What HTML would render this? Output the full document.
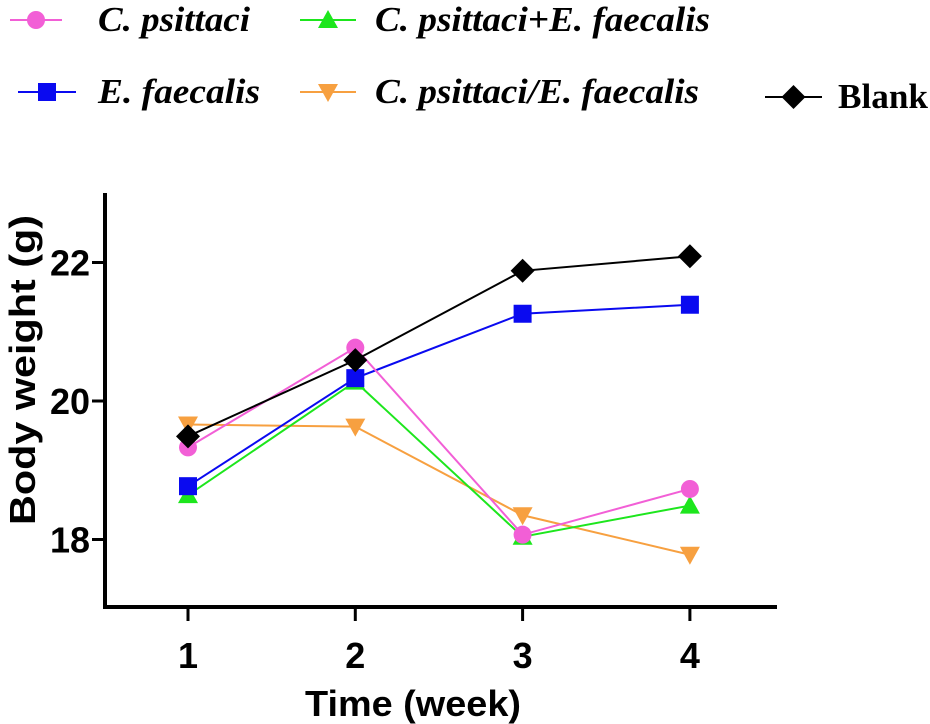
<!DOCTYPE html>
<html><head><meta charset="utf-8"><style>
body{margin:0;background:#fff;width:930px;height:724px;overflow:hidden}
svg{display:block}
.lg{font-family:"Liberation Serif",serif;font-weight:bold;font-style:italic;font-size:35px}
.tk{font-family:"Liberation Sans",sans-serif;font-weight:bold;font-size:36px}
</style></head><body>
<svg id="chart" width="930" height="724" viewBox="0 0 930 724">
<g id="legend"></g>
<g id="axes"></g>
<g id="series"></g>
<text class="tk" transform="translate(35,370) rotate(-90)" text-anchor="middle" font-size="35" textLength="310" lengthAdjust="spacingAndGlyphs">Body weight (g)</text>
<text class="tk" x="413" y="716" text-anchor="middle" font-size="34" textLength="216" lengthAdjust="spacingAndGlyphs">Time  (week)</text>
</svg>
<script>
const weeks=[1,2,3,4];
const yTicks=[18,20,22];
const cPsittaci=[19.33,20.77,18.07,18.73];
const combined=[18.64,20.28,18.04,18.49];
const eFaecalis=[18.77,20.33,21.26,21.39];
const sequential=[19.66,19.63,18.35,17.78];
const blank=[19.49,20.59,21.88,22.09];
const seriesNames=["C. psittaci","C. psittaci+E. faecalis","E. faecalis","C. psittaci/E. faecalis","Blank"];
const NS="http://www.w3.org/2000/svg";
function X(v){return 188+(v-1)*167.3;}
function Y(v){return 401-(v-20)*69.25;}
function mk(tag,attrs,parent){const e=document.createElementNS(NS,tag);for(const k in attrs)e.setAttribute(k,attrs[k]);parent.appendChild(e);return e;}
const axes=document.getElementById('axes');
let l=mk('line',{x1:105,y1:193,x2:105,y2:609,stroke:'#000','stroke-width':4},axes);


l=mk('line',{x1:103,y1:607,x2:777,y2:607,stroke:'#000','stroke-width':4},axes);


yTicks.forEach(t=>{
 const tl=mk('line',{x1:92,y1:Y(t),x2:105,y2:Y(t),stroke:'#000','stroke-width':3},axes);
 
 
 const tx=mk('text',{x:90,y:Y(t)+13,'text-anchor':'end','class':'tk'},axes);
 tx.textContent=t;
 
 
});
weeks.forEach(w=>{
 const tl=mk('line',{x1:X(w),y1:607,x2:X(w),y2:621,stroke:'#000','stroke-width':3},axes);
 
 
 const tx=mk('text',{x:X(w),y:668,'text-anchor':'middle','class':'tk'},axes);
 tx.textContent=w;
 
 
});
function marker(type,x,y,color,g){
 if(type==='circle')return mk('circle',{cx:x,cy:y,r:9,fill:color},g);
 if(type==='square')return mk('rect',{x:x-9,y:y-9,width:18,height:18,fill:color},g);
 if(type==='tri')return mk('polygon',{points:`${x},${y-10} ${x-10},${y+8} ${x+10},${y+8}`,fill:color},g);
 if(type==='tridown')return mk('polygon',{points:`${x},${y+10} ${x-10},${y-8} ${x+10},${y-8}`,fill:color},g);
 return mk('polygon',{points:`${x},${y-12} ${x+12},${y} ${x},${y+12} ${x-12},${y}`,fill:color},g);
}
const defs=[
 {vals:sequential,color:'#f7a040',type:'tridown',name:'series-c-psittaci-then-e-faecalis'},
 {vals:combined,color:'#1de61d',type:'tri',name:'series-c-psittaci-plus-e-faecalis'},
 {vals:eFaecalis,color:'#0a0af0',type:'square',name:'series-e-faecalis'},
 {vals:cPsittaci,color:'#f25fd6',type:'circle',name:'series-c-psittaci'},
 {vals:blank,color:'#000',type:'diamond',name:'series-blank'}];
const sg=document.getElementById('series');
defs.forEach(d=>{
 const g=mk('g',{},sg);
 
 
 const pl=mk('polyline',{points:d.vals.map((v,i)=>X(weeks[i])+','+Y(v)).join(' '),fill:'none',stroke:d.color,'stroke-width':2},g);
 
 
 d.vals.forEach((v,i)=>{
  const m=marker(d.type,X(weeks[i]),Y(v),d.color,g);
  
  
 });
});
const lg=document.getElementById('legend');
const items=[
 {x1:10,x2:62,y:20,tx:98,w:152,type:'circle',color:'#f25fd6',i:0},
 {x1:300,x2:356,y:20,tx:375,w:335,type:'tri',color:'#1de61d',i:1},
 {x1:18,x2:76,y:92,tx:98,w:162,type:'square',color:'#0a0af0',i:2},
 {x1:300,x2:356,y:92,tx:375,w:324,type:'tridown',color:'#f7a040',i:3},
 {x1:765,x2:822,y:97,tx:838,w:90,type:'diamond',color:'#000',i:4}];
items.forEach(it=>{
 const g=mk('g',{},lg);
 
 
 mk('line',{x1:it.x1,y1:it.y,x2:it.x2,y2:it.y,stroke:it.color,'stroke-width':2},g);
 marker(it.type,(it.x1+it.x2)/2,it.y,it.color,g);
 const t=mk('text',{x:it.tx,y:it.y+11,'class':'lg',textLength:it.w,lengthAdjust:'spacingAndGlyphs'},g);
 if(it.i===4){t.style.fontStyle='normal';}
 t.textContent=seriesNames[it.i];
});
</script>
</body></html>
